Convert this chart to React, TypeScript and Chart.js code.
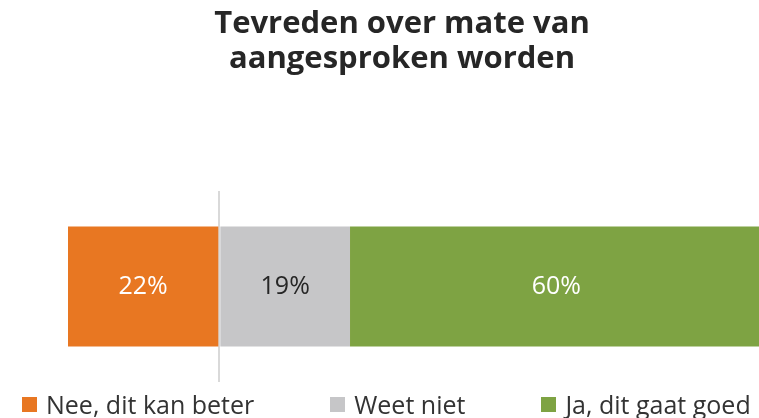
import { useEffect, useRef } from "react";
import { Chart, registerables } from "chart.js";

Chart.register(...registerables);

const titleLines = ["Tevreden over mate van", "aangesproken worden"];
const categories = ["Tevreden over mate van aangesproken worden"];
const seriesLabels = ["Nee, dit kan beter", "Weet niet", "Ja, dit gaat goed"];
const neeValues = [-22];
const weetNietValues = [19];
const jaValues = [60];
const seriesColors = ["#E87722", "#C6C6C8", "#7EA343"];
const valueLabelColors = ["#FFFFFF", "#262626", "#FFFFFF"];
const axisMin = -22;
const axisMax = 85;

const FONT = "'Open Sans', Lato, sans-serif";

const valueLabelsPlugin = {
  id: "valueLabels",
  afterDatasetsDraw(chart: any) {
    const ctx = chart.ctx;
    chart.data.datasets.forEach((ds: any, i: number) => {
      const meta = chart.getDatasetMeta(i);
      meta.data.forEach((el: any, j: number) => {
        const v = ds.data[j] as number;
        const { x, y, base } = el.getProps(["x", "y", "base"], true);
        ctx.save();
        ctx.font = `25px ${FONT}`;
        ctx.fillStyle = valueLabelColors[i];
        ctx.textAlign = "center";
        ctx.textBaseline = "middle";
        ctx.fillText(`${Math.abs(v)}%`, (x + base) / 2, y);
        ctx.restore();
      });
    });
  },
};

export default function App() {
  const canvasRef = useRef<HTMLCanvasElement | null>(null);

  useEffect(() => {
    if (!canvasRef.current) return;
    const seriesData = [neeValues, weetNietValues, jaValues];
    const chart = new Chart(canvasRef.current, {
      type: "bar",
      data: {
        labels: categories,
        datasets: seriesLabels.map((label, i) => ({
          label,
          data: seriesData[i],
          backgroundColor: seriesColors[i],
          borderWidth: 0,
          barPercentage: 0.628,
          categoryPercentage: 1,
        })),
      },
      options: {
        indexAxis: "y",
        responsive: false,
        animation: false,
        events: [],
        layout: { padding: { left: 0, right: 0, top: 0, bottom: 36 } },
        plugins: {
          legend: { display: false },
          tooltip: { enabled: false },
          title: {
            display: true,
            text: titleLines,
            color: "#262626",
            font: { family: FONT, size: 31, weight: "bold", lineHeight: 35 / 31 },
            padding: { top: 7, bottom: 114 },
          },
        },
        scales: {
          x: {
            type: "linear",
            stacked: true,
            min: axisMin,
            max: axisMax,
            z: 1,
            ticks: { display: false },
            grid: { color: "#D9D9D9", lineWidth: 2, drawTicks: false },
            border: { display: false },
            afterBuildTicks(scale: any) {
              scale.ticks = [{ value: 0 }];
            },
          },
          y: {
            stacked: true,
            display: true,
            ticks: { display: false },
            grid: { display: false, drawTicks: false },
            border: { display: false },
            afterFit(scale: any) {
              scale.width = 68;
            },
          },
        },
      } as any,
      plugins: [valueLabelsPlugin],
    });
    return () => chart.destroy();
  }, []);

  return (
    <div
      style={{
        position: "fixed",
        left: 0,
        top: 0,
        width: 759,
        height: 418,
        overflow: "hidden",
        background: "#fff",
      }}
    >
      <canvas ref={canvasRef} width={804} height={418} style={{ display: "block" }} />
      <div
        style={{
          position: "absolute",
          left: 22,
          top: 389,
          display: "flex",
          gap: 76,
          fontFamily: FONT,
          fontSize: 25,
          color: "#333",
          lineHeight: "30px",
          whiteSpace: "nowrap",
        }}
      >
        {seriesLabels.map((label, i) => (
          <div key={label} style={{ display: "flex", alignItems: "center" }}>
            <span
              style={{
                display: "inline-block",
                width: 15,
                height: 15,
                marginRight: 9,
                background: seriesColors[i],
              }}
            />
            <span>{label}</span>
          </div>
        ))}
      </div>
    </div>
  );
}
